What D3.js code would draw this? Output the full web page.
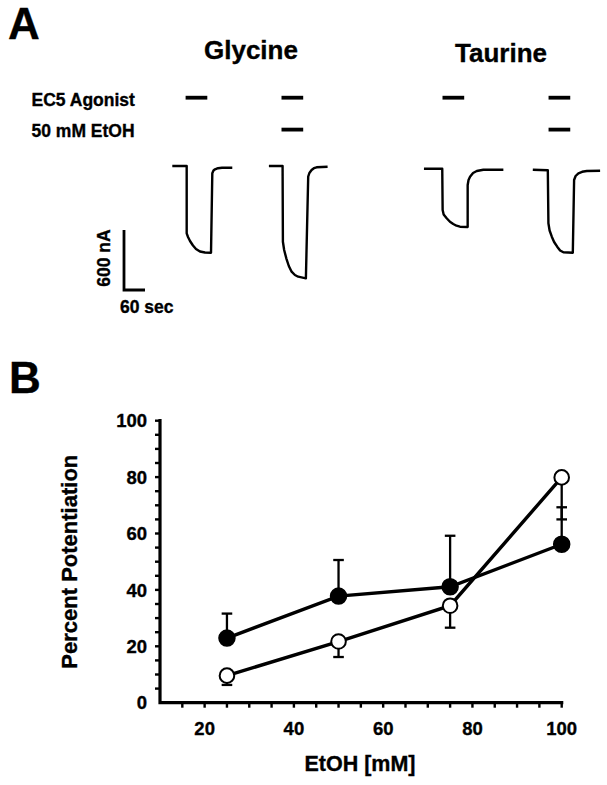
<!DOCTYPE html>
<html>
<head>
<meta charset="utf-8">
<script src="https://cdn.jsdelivr.net/npm/d3@7"></script>
<style>
  html, body { margin: 0; padding: 0; background: #fff; }
  svg { display: block; }
  text { font-family: "Liberation Sans", Arial, Helvetica, sans-serif; font-weight: bold; fill: #000; stroke: #000; stroke-width: 0.35px; }
</style>
</head>
<body>
<svg id="chart" width="607" height="785"></svg>
<script>
// ---------------- DATA ----------------
// Panel A: current traces, [time (s), current (nA)] relative to each trace start
const traceGly = [[0,0],[41.1,0],[41.1,-673],[44.9,-710],[50.6,-750],[59.1,-795],[67.7,-830],[79.1,-855],[93.4,-865],[110.6,-867],[114.3,-73],[117.7,-45],[122,-33],[130.6,-22],[142,-17],[171.4,-17]];
const traceGlyEtOH = [[0,0],[39.1,0],[40,-757],[43.6,-840],[49.7,-923],[56.9,-1000],[64.9,-1057],[74.3,-1090],[83.7,-1107],[105.7,-1123],[112.3,-107],[115.7,-70],[122,-40],[128.6,-22],[136.3,-13],[167.7,-7]];
const traceTau = [[0,-27],[52.3,-27],[53.4,-440],[56.3,-485],[64.9,-523],[74.3,-558],[83.7,-580],[92.9,-597],[102.9,-607],[124.9,-610],[124.9,-190],[127.4,-140],[131.7,-107],[140.3,-70],[150.9,-50],[169.7,-37],[226.9,-37]];
const traceTauEtOH = [[0,-37],[42.9,-43],[44.6,-573],[48,-645],[54.3,-707],[60.9,-760],[69.7,-807],[78,-845],[87.4,-863],[114.3,-867],[118,-140],[122.3,-100],[130.3,-73],[140.9,-58],[154.3,-50],[192.3,-47]];
const traces = [traceGly, traceGlyEtOH, traceTau, traceTauEtOH];
const traceStart = [0, 276, 719, 1030];          // s, on a common time base
const agonistOn = [38, 36, 53, 45];              // s, relative to trace start
const agonistDur = 62;                           // s
const ethanolApplied = [false, true, false, true];
const agonistNames = ["Glycine", "Taurine"];
const rowLabels = ["EC5 Agonist", "50 mM EtOH"];
const scaleBarCurrent = 600;  // nA
const scaleBarTime = 60;      // s

// Panel B
const etoh = [25, 50, 75, 100];
const filledMean = [22.9, 37.8, 41.1, 56.2];
const filledErr  = [8.7, 12.8, 18.1, 13.1];
const openMean   = [9.6, 21.7, 34.4, 79.9];
const openErr    = [3.3, 5.5, 7.8, 14.9];
const xTickLabels = [20, 40, 60, 80, 100];
const yTickLabels = [0, 20, 40, 60, 80, 100];
const xMinorTicks = d3.range(15, 101, 5);
const yMinorTicks = d3.range(5, 101, 5);

// ---------------- DRAW ----------------
const svg = d3.select("#chart");
svg.append("rect").attr("width", 607).attr("height", 785).attr("fill", "#fff");

// ===== Panel A =====
const tScale = d3.scaleLinear().domain([0, 1000]).range([172.3, 522.3]);   // 0.35 px/s
const iScale = d3.scaleLinear().domain([0, -1000]).range([166, 266]);      // 0.1 px/nA

svg.append("text").attr("x", 8).attr("y", 39).attr("font-size", 44).text("A");

svg.selectAll("text.agname").data(agonistNames).enter().append("text")
  .attr("class", "agname")
  .attr("x", (d, i) => i === 0 ? 204 : 455)
  .attr("y", (d, i) => i === 0 ? 59 : 61.5)
  .attr("font-size", 26)
  .text(d => d);

svg.selectAll("text.rowlab").data(rowLabels).enter().append("text")
  .attr("class", "rowlab")
  .attr("x", 31.5)
  .attr("y", (d, i) => i === 0 ? 106 : 137.3)
  .attr("font-size", 17.5)
  .text(d => d);

const line = d3.line()
  .x(d => d[0])
  .y(d => d[1]);

traces.forEach((tr, k) => {
  const pts = tr.map(p => [tScale(traceStart[k] + p[0]), iScale(p[1])]);
  svg.append("path").attr("d", line(pts))
    .attr("fill", "none").attr("stroke", "#000").attr("stroke-width", 2.4)
    .attr("stroke-linejoin", "round");
  // agonist bar
  const x0 = tScale(traceStart[k] + agonistOn[k]);
  const x1 = tScale(traceStart[k] + agonistOn[k] + agonistDur);
  svg.append("line").attr("x1", x0).attr("x2", x1).attr("y1", 97.7).attr("y2", 97.7)
    .attr("stroke", "#000").attr("stroke-width", 3.8);
  if (ethanolApplied[k]) {
    svg.append("line").attr("x1", x0).attr("x2", x1).attr("y1", 129.6).attr("y2", 129.6)
      .attr("stroke", "#000").attr("stroke-width", 3.8);
  }
});

// scale bar
const sbX = 124, sbY = 290;
const sbH = iScale(-scaleBarCurrent) - iScale(0);
const sbW = tScale(scaleBarTime) - tScale(0);
svg.append("path")
  .attr("d", `M${sbX},${sbY - sbH} L${sbX},${sbY} L${sbX + sbW},${sbY}`)
  .attr("fill", "none").attr("stroke", "#000").attr("stroke-width", 2.8);
svg.append("text")
  .attr("transform", `translate(109.5,${sbY - sbH / 2 - 2}) rotate(-90)`)
  .attr("text-anchor", "middle").attr("font-size", 17.5)
  .text(scaleBarCurrent + " nA");
svg.append("text").attr("x", 120).attr("y", 312.7).attr("font-size", 17.5)
  .text(scaleBarTime + " sec");

// ===== Panel B =====
svg.append("text").attr("x", 9).attr("y", 393).attr("font-size", 44).text("B");

const x = d3.scaleLinear().domain([10, 100]).range([160, 561.7]);
const y = d3.scaleLinear().domain([0, 100]).range([702.7, 420.7]);

// minor ticks
svg.append("g").selectAll("line").data(xMinorTicks).enter().append("line")
  .attr("x1", d => x(d)).attr("x2", d => x(d))
  .attr("y1", y(0)).attr("y2", y(0) + 5)
  .attr("stroke", "#000").attr("stroke-width", 2.4);
svg.append("g").selectAll("line").data(yMinorTicks).enter().append("line")
  .attr("x1", x(10) - 5).attr("x2", x(10))
  .attr("y1", d => y(d)).attr("y2", d => y(d))
  .attr("stroke", "#000").attr("stroke-width", 2.4);

// axis lines
svg.append("path")
  .attr("d", `M${x(10)},${y(100)} L${x(10)},${y(0)} L${x(100)},${y(0)}`)
  .attr("fill", "none").attr("stroke", "#000").attr("stroke-width", 3.2)
  .attr("stroke-linecap", "square");

// tick labels
svg.append("g").selectAll("text").data(xTickLabels).enter().append("text")
  .attr("x", d => x(d)).attr("y", 735)
  .attr("text-anchor", "middle").attr("font-size", 18.5)
  .text(d => d);
svg.append("g").selectAll("text").data(yTickLabels).enter().append("text")
  .attr("x", 147).attr("y", d => y(d) + 6.6)
  .attr("text-anchor", "end").attr("font-size", 18.5)
  .text(d => d);

// axis titles
svg.append("text").attr("x", 360).attr("y", 771)
  .attr("text-anchor", "middle").attr("font-size", 21.5)
  .text("EtOH [mM]");
svg.append("text")
  .attr("transform", `translate(77,${(y(0) + y(100)) / 2}) rotate(-90)`)
  .attr("text-anchor", "middle").attr("font-size", 22)
  .text("Percent Potentiation");

const filled = etoh.map((e, i) => ({ x: e, y: filledMean[i], err: filledErr[i] }));
const open = etoh.map((e, i) => ({ x: e, y: openMean[i], err: openErr[i] }));

const dataLine = d3.line().x(d => x(d.x)).y(d => y(d.y));

// error bars (filled: up, open: down)
function errBars(data, dir) {
  const g = svg.append("g").attr("stroke", "#000").attr("stroke-width", 2.3);
  data.forEach(d => {
    const yEnd = y(d.y + dir * d.err);
    g.append("line").attr("x1", x(d.x)).attr("x2", x(d.x))
      .attr("y1", y(d.y)).attr("y2", yEnd);
    g.append("line").attr("x1", x(d.x) - 5.3).attr("x2", x(d.x) + 5.3)
      .attr("y1", yEnd).attr("y2", yEnd);
  });
}
errBars(filled, 1);
errBars(open, -1);

svg.append("path").attr("d", dataLine(filled))
  .attr("fill", "none").attr("stroke", "#000").attr("stroke-width", 3.4);
svg.append("path").attr("d", dataLine(open))
  .attr("fill", "none").attr("stroke", "#000").attr("stroke-width", 3.4);

svg.append("g").selectAll("circle").data(filled).enter().append("circle")
  .attr("cx", d => x(d.x)).attr("cy", d => y(d.y)).attr("r", 8)
  .attr("fill", "#000").attr("stroke", "#000").attr("stroke-width", 1.5);
svg.append("g").selectAll("circle").data(open).enter().append("circle")
  .attr("cx", d => x(d.x)).attr("cy", d => y(d.y)).attr("r", 7.3)
  .attr("fill", "#fff").attr("stroke", "#000").attr("stroke-width", 2);
</script>
</body>
</html>
